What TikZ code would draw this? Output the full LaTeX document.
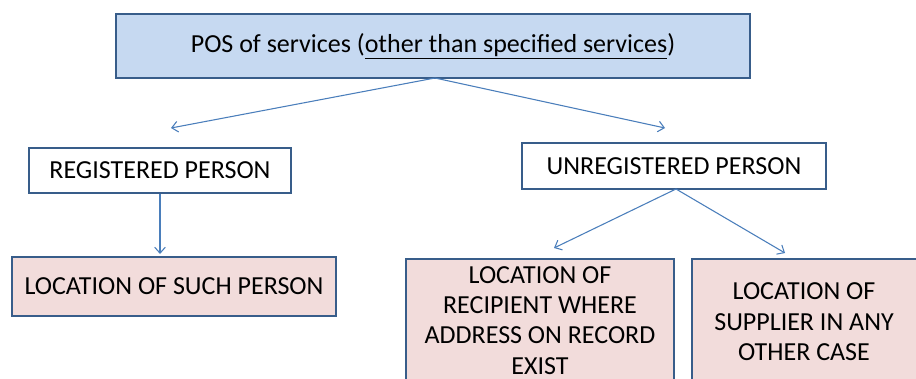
\documentclass[tikz,border=0pt]{standalone}
\usepackage{fontspec}
\setmainfont{Carlito}
\usetikzlibrary{arrows.meta,fit}
\definecolor{boxline}{RGB}{56,93,138}
\definecolor{topfill}{RGB}{198,217,241}
\definecolor{pinkfill}{RGB}{242,220,219}
\definecolor{arrowblue}{RGB}{74,126,187}
\tikzset{
  box/.style={draw=boxline, line width=1.5pt, inner sep=0pt, rectangle},
  bluebox/.style={box, fill=topfill},
  whitebox/.style={box, fill=white},
  pinkbox/.style={box, fill=pinkfill},
  txt/.style={font=\fontsize{19.5pt}{22.8pt}\selectfont, align=center, inner sep=0pt, text=black},
  link/.style={draw=arrowblue, line width=0.8pt, -{Straight Barb[length=4.5pt,width=8pt,line width=0.8pt]}}
}
\begin{document}
\begin{tikzpicture}[x=0.75pt,y=-0.75pt]
  \useasboundingbox (0,0) rectangle (916,378);
  \clip (0,0) rectangle (916,378);
  \fill[white] (0,0) rectangle (916,378);

  % top box
  \node[bluebox, fit={(116,14) (750,78)},
        label={[txt]center:POS of services (\underline{other than specified services})}] (top) {};

  % second level
  \node[whitebox, fit={(29,148) (291,193)},
        label={[txt]center:REGISTERED PERSON}] (reg) {};
  \node[whitebox, fit={(522,143) (826,189)},
        label={[txt]center:UNREGISTERED PERSON}] (unreg) {};

  % outcomes
  \node[pinkbox, fit={(12,257) (336,316)},
        label={[txt]center:LOCATION OF SUCH PERSON}] (such) {};
  \node[pinkbox, fit={(406,259) (674,430)}] (rec) {};
  \node[txt, anchor=north] at ([yshift=-6pt]rec.north)
        {LOCATION OF\\RECIPIENT WHERE\\ADDRESS ON RECORD\\EXIST};
  \node[pinkbox, fit={(692,259) (930,430)}] (sup) {};
  \node[txt, anchor=north] at ([yshift=-18.5pt]sup.north-|804,0)
        {LOCATION OF\\SUPPLIER IN ANY\\OTHER CASE};

  % connectors
  \coordinate (topfoot) at (435,78);
  \coordinate (regtip) at (171,128);
  \coordinate (unregtip) at (665,128);
  \draw[link] (topfoot) -- (regtip);
  \draw[link] (topfoot) -- (unregtip);
  \draw[link] (reg.south-|160,0) -- (160,254);
  \coordinate (unfoot) at (676,189);
  \draw[link] (unfoot) -- (554,248);
  \draw[link] (unfoot) -- (785,253);
\end{tikzpicture}
\end{document}
